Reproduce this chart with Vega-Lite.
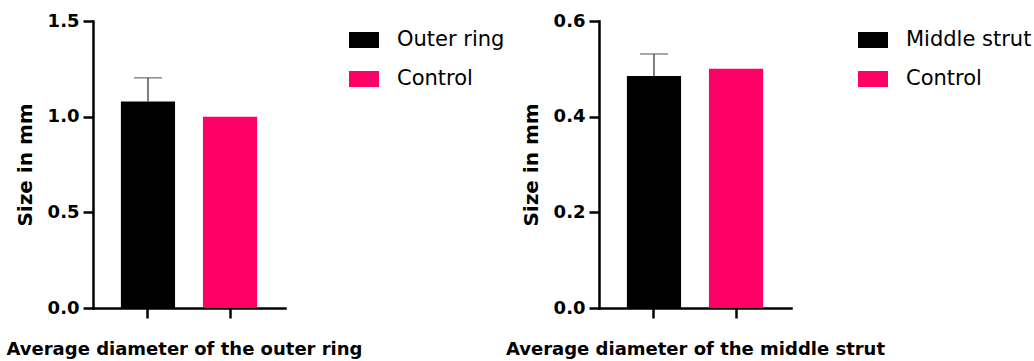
{
  "$schema": "https://vega.github.io/schema/vega-lite/v6.json",
  "background": "white",
  "padding": {"left": 6, "top": 12, "right": 0, "bottom": 0},
  "bounds": "flush",
  "spacing": 314,
  "config": {
    "view": {"stroke": null},
    "font": "DejaVu Sans",
    "axis": {
      "grid": false,
      "domainColor": "#000000",
      "domainWidth": 2.5,
      "domainCap": "square",
      "tickColor": "#000000",
      "tickWidth": 2.5,
      "tickSize": 10,
      "labelFont": "DejaVu Sans",
      "labelFontWeight": "bold",
      "labelFontSize": 18,
      "labelColor": "#000000",
      "labelPadding": 4,
      "titleFont": "DejaVu Sans",
      "titleFontWeight": "bold",
      "titleColor": "#000000"
    },
    "axisX": {"titleFontSize": 18, "titlePadding": 21, "labels": false},
    "axisY": {"titleFontSize": 20, "titlePadding": 12},
    "legend": {
      "orient": "none",
      "title": null,
      "padding": 0,
      "symbolType": "M-1,-0.533H1V0.533H-1Z",
      "symbolSize": 900,
      "symbolStrokeWidth": 0,
      "symbolOpacity": 1,
      "labelFont": "DejaVu Sans",
      "labelFontSize": 21,
      "labelColor": "#000000",
      "labelOffset": 18,
      "rowPadding": 14,
      "legendY": 4
    }
  },
  "resolve": {"scale": {"color": "independent"}, "legend": {"color": "independent"}},
  "hconcat": [
    {
      "width": 192,
      "height": 287,
      "data": {"values": [
        {"group": "Outer ring", "mean": 1.079, "upper": 1.203},
        {"group": "Control", "mean": 1.0, "upper": null}
      ]},
      "encoding": {
        "x": {"field": "group", "type": "nominal", "sort": ["Outer ring", "Control"],
              "scale": {"paddingInner": 0.34, "paddingOuter": 0.34},
              "axis": {"title": "Average diameter of the outer ring", "titleX": 91}}
      },
      "layer": [
        {
          "mark": {"type": "bar"},
          "encoding": {
            "y": {"field": "mean", "type": "quantitative", "scale": {"domain": [0, 1.5], "nice": false},
                  "axis": {"title": "Size in mm", "values": [0, 0.5, 1, 1.5], "format": ".1f"}},
            "color": {"field": "group", "type": "nominal",
                      "scale": {"domain": ["Outer ring", "Control"], "range": ["#000000", "#ff0066"]},
                      "legend": {"legendX": 256}}
          }
        },
        {
          "transform": [{"filter": "datum.upper != null"}],
          "mark": {"type": "rule", "color": "#555555", "strokeWidth": 1.5},
          "encoding": {
            "y": {"field": "mean", "type": "quantitative", "scale": {"domain": [0, 1.5], "nice": false}},
            "y2": {"field": "upper"}
          }
        },
        {
          "transform": [{"filter": "datum.upper != null"}],
          "mark": {"type": "tick", "color": "#555555", "thickness": 1.5, "size": 28},
          "encoding": {
            "y": {"field": "upper", "type": "quantitative", "scale": {"domain": [0, 1.5], "nice": false}}
          }
        }
      ]
    },
    {
      "width": 192,
      "height": 287,
      "data": {"values": [
        {"group": "Middle strut", "mean": 0.485, "upper": 0.531},
        {"group": "Control", "mean": 0.5, "upper": null}
      ]},
      "encoding": {
        "x": {"field": "group", "type": "nominal", "sort": ["Middle strut", "Control"],
              "scale": {"paddingInner": 0.34, "paddingOuter": 0.34},
              "axis": {"title": "Average diameter of the middle strut"}}
      },
      "layer": [
        {
          "mark": {"type": "bar"},
          "encoding": {
            "y": {"field": "mean", "type": "quantitative", "scale": {"domain": [0, 0.6], "nice": false},
                  "axis": {"title": "Size in mm", "values": [0, 0.2, 0.4, 0.6], "format": ".1f"}},
            "color": {"field": "group", "type": "nominal",
                      "scale": {"domain": ["Middle strut", "Control"], "range": ["#000000", "#ff0066"]},
                      "legend": {"legendX": 259}}
          }
        },
        {
          "transform": [{"filter": "datum.upper != null"}],
          "mark": {"type": "rule", "color": "#555555", "strokeWidth": 1.5},
          "encoding": {
            "y": {"field": "mean", "type": "quantitative", "scale": {"domain": [0, 0.6], "nice": false}},
            "y2": {"field": "upper"}
          }
        },
        {
          "transform": [{"filter": "datum.upper != null"}],
          "mark": {"type": "tick", "color": "#555555", "thickness": 1.5, "size": 28},
          "encoding": {
            "y": {"field": "upper", "type": "quantitative", "scale": {"domain": [0, 0.6], "nice": false}}
          }
        }
      ]
    }
  ]
}
